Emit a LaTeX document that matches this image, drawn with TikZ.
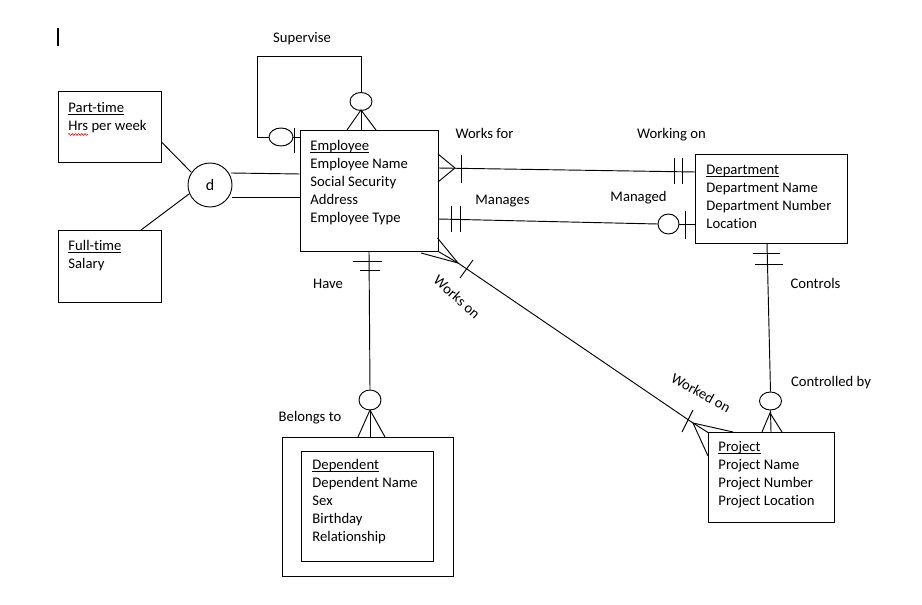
\documentclass[tikz,border=0pt]{standalone}
\usepackage{fontspec}
\setmainfont{Carlito}[Ligatures=NoCommon]
\usetikzlibrary{shapes.geometric,fit,decorations.pathmorphing}
\newcommand\ulword[1]{\setbox0\hbox{#1}\rlap{\rule[-1.6pt]{\wd0}{0.55pt}}\box0}
\begin{document}
\begin{tikzpicture}[x=0.75pt,y=-0.75pt, line width=0.7pt,
  box/.style={draw, rectangle, inner sep=0pt},
  txt/.style={anchor=base west, inner sep=0pt, font=\fontsize{11pt}{13.5pt}\selectfont},
  lbl/.style={anchor=base, inner sep=0pt, font=\fontsize{11pt}{13.5pt}\selectfont},
  opt/.style={draw, ellipse, inner sep=0pt, minimum width=16.5pt, minimum height=13.5pt},
  rel/.style={draw, line width=0.7pt}]
\fill[white] (0,0) rectangle (922,605);
\useasboundingbox (0,0) rectangle (922,605);

% cursor
\draw[line width=0.8pt] (58,28) -- (58,46);

% entity boxes
\node[box, fit={(300,130)(438,251)}] (emp) {};
\node[box, fit={(695,154)(847,243)}] (dept) {};
\node[box, fit={(708,432)(834,522)}] (proj) {};
\node[box, fit={(282,437)(453,576)}] (depout) {};
\node[box, fit={(301,451)(433,561)}] (depin) {};
\node[box, fit={(58,91)(161,162)}] (part) {};
\node[box, fit={(58,230)(161,302)}] (full) {};
\node[draw, circle, inner sep=0pt, minimum size=33pt, font=\fontsize{12pt}{14pt}\selectfont] (d) at (210,185) {d};

% entity texts
\node[txt] (e1) at (310,151) {\ulword{Employee}};
\node[txt] (e2) at (310,169) {Employee Name};
\node[txt] (e3) at (310,187) {Social Security};
\node[txt] (e4) at (310,205) {Address};
\node[txt] (e5) at (310,223) {Employee Type};

\node[txt] (d1) at (706,175) {\ulword{Department}};
\node[txt] (d2) at (706,193) {Department Name};
\node[txt] (d3) at (706,211) {Department Number};
\node[txt] (d4) at (706,229) {Location};

\node[txt] (p1) at (718,452) {\ulword{Project}};
\node[txt] (p2) at (718,470) {Project Name};
\node[txt] (p3) at (718,488) {Project Number};
\node[txt] (p4) at (718,506) {Project Location};

\node[txt] (q1) at (312,470) {\ulword{Dependent}};
\node[txt] (q2) at (312,488) {Dependent Name};
\node[txt] (q3) at (312,506) {Sex};
\node[txt] (q4) at (312,524) {Birthday};
\node[txt] (q5) at (312,542) {Relationship};

\node[txt] (pt1) at (68,113) {\ulword{Part-time}};
\node[txt] (pt2) at (68,131) {Hrs per week};
\draw[red, line width=0.45pt, decorate, decoration={snake, segment length=2.4pt, amplitude=0.7pt}] (68,134.5) -- (88,134.5);

\node[txt] (ft1) at (68,251) {\ulword{Full-time}};
\node[txt] (ft2) at (68,269) {Salary};

% relationship labels
\node[lbl] (lSup) at (302,43) {Supervise};
\node[lbl] (lWf) at (484.5,139) {Works for};
\node[lbl] (lWon) at (671.5,139) {Working on};
\node[lbl] (lMan) at (502.5,205) {Manages};
\node[lbl] (lMgd) at (638.5,202) {Managed};
\node[lbl] (lHave) at (328,289) {Have};
\node[lbl] (lBel) at (310,422) {Belongs to};
\node[lbl] (lCtl) at (815.5,289) {Controls};
\node[lbl] (lCby) at (831,387) {Controlled by};
\node[lbl, anchor=center, rotate=-42] (lWo) at (457,297) {Works on};
\node[lbl, anchor=center, rotate=-29] (lWdo) at (701,393) {Worked on};

% specialization lines
\draw (part.south east |- 0,142) -- (191,172);
\draw (141,230) -- (189,194);
\draw (231,173) -- (emp.west |- 0,174);
\draw (232,197) -- (emp.west |- 0,197);

% Supervise (recursive)
\node[opt, minimum width=18pt] (sc1) at (281,137) {};
\node[opt] (sc2) at (361,101.5) {};
\draw (sc2.north) -- (361,56) -- (257,56) -- (257,137) -- (sc1.west);
\draw (sc1.east) -- (emp.west |- sc1);
\draw (294.5,128) -- (294.5,153);
\draw (sc2.south) -- (361,130);
\draw (347,130) -- (361,110) -- (376,130);

% Works for
\coordinate (wf1) at (438,168);
\coordinate (wf2) at (695,172);
\draw (wf1) -- (wf2);
\draw (438,154) -- (455,168) -- (438,182);
\draw (461,155) -- (461,183);
\draw (674,158) -- (674,184);
\draw (682,158) -- (682,184);

% Manages
\node[opt, minimum width=15.75pt, minimum height=15pt] (mc) at (668.5,224) {};
\draw (438,219) -- (mc.west);
\draw (mc.east) -- (dept.west |- mc);
\draw (451,206) -- (451,232);
\draw (460,206) -- (460,232);
\draw (685,211) -- (685,239);

% Have / Belongs to
\node[opt, minimum height=15pt] (hc) at (370,400) {};
\draw (369,251) -- (hc.north);
\draw (353,261) -- (382,261);
\draw (360,270) -- (380,270);
\draw (hc.south) -- (370,437);
\draw (358,437) -- (370,410) -- (385,437);

% Controls / Controlled by
\node[opt] (cc) at (770.5,401) {};
\draw (767,243) -- (cc.north);
\draw (753,253) -- (780,253);
\draw (755,264) -- (783,264);
\draw (cc.south) -- (771,432);
\draw (762,432) -- (770,413) -- (782,432);

% Works on / Worked on
\coordinate (wo1) at (458,263);
\coordinate (wo2) at (693,423);
\draw (437.5,251) -- (wo1) -- (wo2) -- (708,432.5);
\draw (437.5,238) -- (wo1) -- (421,253);
\draw (473,260) -- (460,278);
\draw (733,432) -- (wo2) -- (708,456);
\draw (693,410) -- (682,432);
\end{tikzpicture}
\end{document}
